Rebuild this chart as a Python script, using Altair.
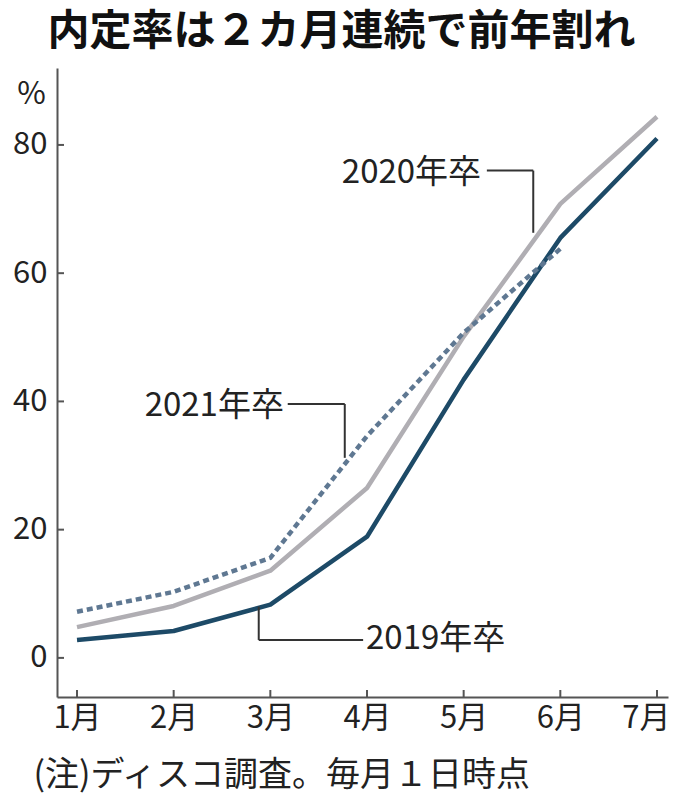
import altair as alt
import pandas as pd

months = [1, 2, 3, 4, 5, 6, 7]
s2019 = [2.8, 4.2, 8.3, 18.9, 43.4, 65.5, 81.0]
s2020 = [4.8, 8.1, 13.6, 26.5, 50.1, 70.8, 84.4]
s2021 = [7.2, 10.3, 15.6, 34.6, 50.7, 63.8]
y_ticks = [0, 20, 40, 60, 80]

labels = ["2020年卒", "2021年卒", "2019年卒"]
label_x = [3.74, 1.70, 3.99]
label_y = [75.6, 39.3, 3.0]

# leader segments (data units)
seg_x = [5.24, 5.72, 3.18, 3.77, 2.88, 2.88]
seg_y = [76.0, 76.0, 39.6, 39.6, 8.0, 2.8]
seg_x2 = [5.72, 5.72, 3.77, 3.77, 2.88, 3.96]
seg_y2 = [76.0, 66.3, 39.6, 31.2, 2.8, 2.8]

FONT = "Noto Sans CJK JP"
W, H = 611, 629

xs = alt.Scale(domain=[0.793, 7.114], nice=False, zero=False)
ys = alt.Scale(domain=[-6.1, 92], nice=False, zero=False)

def series_df(vals):
    return pd.DataFrame({"m": months[: len(vals)], "v": vals})

xaxis = alt.Axis(
    values=months,
    labelExpr="datum.value + '月'",
    ticks=False,
    grid=False,
    domainColor="#555",
    domainWidth=2,
    labelFont=FONT,
    labelFontSize=31,
    labelColor="#222",
    labelPadding=6,
    labelFlush=15,
    labelFlushOffset=13,
    title="(注)ディスコ調査。毎月１日時点",
    titleFont=FONT,
    titleFontSize=34,
    titleFontWeight="normal",
    titleColor="#222",
    titleAlign="left",
    titleBaseline="middle",
    titleAnchor="start",
    titleX=-24,
    titleY=78,
)
yaxis = alt.Axis(
    values=y_ticks,
    ticks=False,
    grid=False,
    domainColor="#555",
    domainWidth=2,
    labelFont=FONT,
    labelFontSize=31,
    labelColor="#222",
    labelPadding=10,
    title="%",
    titleFont=FONT,
    titleFontSize=31,
    titleFontWeight="normal",
    titleColor="#222",
    titleAngle=0,
    titleAlign="center",
    titleBaseline="middle",
    titleX=-26,
    titleY=26,
)

base_axes = alt.Chart(series_df(s2020)).mark_line(opacity=0).encode(
    x=alt.X("m:Q", scale=xs, axis=xaxis),
    y=alt.Y("v:Q", scale=ys, axis=yaxis),
)

def line(vals, color, dash=None):
    kw = dict(color=color, strokeWidth=4.5, strokeJoin="round", strokeCap="butt")
    if dash:
        kw["strokeDash"] = dash
    return alt.Chart(series_df(vals)).mark_line(**kw).encode(
        x=alt.X("m:Q", scale=xs), y=alt.Y("v:Q", scale=ys)
    )

l2020 = line(s2020, "#b0aeb3")
l2019 = line(s2019, "#1d4a67")
l2021 = line(s2021, "#5f7892", [6, 4])

xticks = alt.Chart(pd.DataFrame({"m": months})).mark_rule(color="#555", strokeWidth=2).encode(
    x=alt.X("m:Q", scale=xs), y=alt.value(H), y2=alt.value(H - 7)
)
yticks = alt.Chart(pd.DataFrame({"v": y_ticks})).mark_rule(color="#555", strokeWidth=2).encode(
    y=alt.Y("v:Q", scale=ys), x=alt.value(0), x2=alt.value(7)
)

leaders = alt.Chart(
    pd.DataFrame({"x": seg_x, "y": seg_y, "x2": seg_x2, "y2": seg_y2})
).mark_rule(color="#333", strokeWidth=2).encode(
    x=alt.X("x:Q", scale=xs), x2="x2:Q", y=alt.Y("y:Q", scale=ys), y2="y2:Q"
)

texts = alt.Chart(
    pd.DataFrame({"t": labels, "x": label_x, "y": label_y})
).mark_text(font=FONT, fontSize=33, color="#222", align="left", baseline="middle").encode(
    x=alt.X("x:Q", scale=xs), y=alt.Y("y:Q", scale=ys), text="t:N"
)

chart = alt.layer(base_axes, l2020, l2019, l2021, xticks, yticks, leaders, texts).properties(
    width=W,
    height=H,
    autosize=alt.AutoSizeParams(type="none"),
    padding={"left": 49, "top": 60, "right": 4, "bottom": 100},
    title=alt.TitleParams(
        "内定率は２カ月連続で前年割れ",
        font=FONT,
        fontSize=42,
        fontWeight="bold",
        color="#111",
        anchor="middle",
        frame="group",
        dx=-21,
        offset=14,
    ),
).configure_view(stroke=None)

chart.save("out.html", embed_options={"renderer": "svg", "actions": False})
